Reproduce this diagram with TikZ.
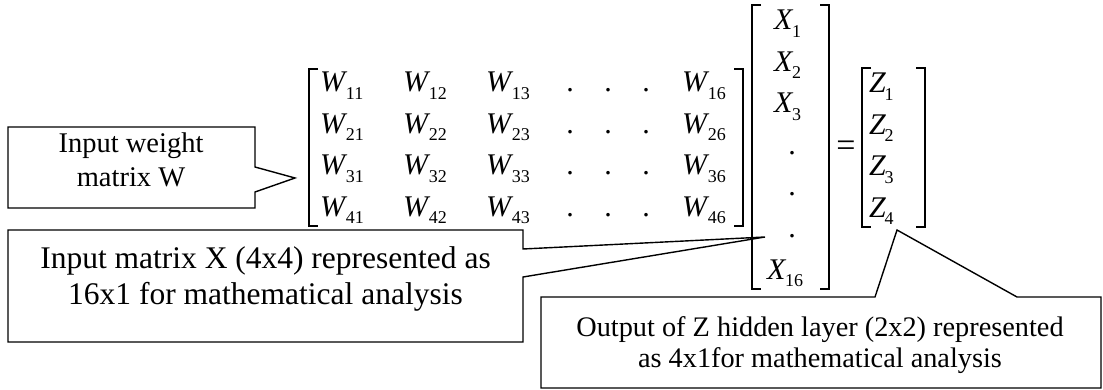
\documentclass[tikz,border=0pt]{standalone}
\usepackage{fontspec}
\setmainfont{Liberation Serif}
% italic letter with a lowered, smaller index
\newcommand\mentry[2]{\textit{#1}\kern-1.5pt\raisebox{-7.5pt}{\fontsize{18}{18}\selectfont #2}}

\begin{document}
\begin{tikzpicture}[x=1pt,y=-1pt,
  box/.style={draw=black, line width=1.4pt, fill=white, line join=miter},
  brk/.style={draw=black, line width=1.1pt},
  lbl/.style={align=center, inner sep=0pt},
  ent/.style={anchor=base west, inner sep=0pt, font=\fontsize{30}{30}\selectfont},
  dotent/.style={anchor=base, inner sep=0pt, font=\fontsize{30}{30}\selectfont},
]
\useasboundingbox (0,0) rectangle (1103,390);

% ---- callout shapes ----
\coordinate (tipW) at (295,178);
\coordinate (tipX) at (765,237);
\coordinate (tipZ) at (897,230);
\draw[box] (8,127) -- (255,127) -- (255,167) -- (tipW) -- (255,192)
  -- (255,208) -- (8,208) -- cycle;
\draw[box] (8,230) -- (523,230) -- (523,249) -- (tipX) -- (523,277)
  -- (523,342) -- (8,342) -- cycle;
\draw[box] (541,297) -- (875,297) -- (tipZ) -- (1017,297) -- (1101,297)
  -- (1101,388) -- (541,388) -- cycle;

% ---- callout texts ----
\node[lbl, font=\fontsize{28.5}{34}\selectfont] (tw) at (131,160)
  {Input weight\\matrix W};
\node[lbl, font=\fontsize{31.5}{36}\selectfont] (tx) at (265.5,279)
  {Input matrix X (4x4) represented as\\16x1 for mathematical analysis};
\node[lbl, font=\fontsize{28.3}{31}\selectfont] (tz) at (820,345)
  {Output of Z hidden layer (2x2) represented\\as 4x1for mathematical analysis};

% ---- weight matrix W ----
\draw[brk] (318,69) -- (309,69) -- (309,226) -- (318,226);
\draw[brk] (734,69) -- (743,69) -- (743,226) -- (734,226);
\foreach \r/\yb in {1/92, 2/133.5, 3/175, 4/216.5} {
  \node[ent] (w\r1) at (320,\yb) {\mentry{W}{\r1}};
  \node[ent] (w\r2) at (403,\yb) {\mentry{W}{\r2}};
  \node[ent] (w\r3) at (486,\yb) {\mentry{W}{\r3}};
  \node[dotent] (wd\r a) at (570,\yb) {.};
  \node[dotent] (wd\r b) at (608,\yb) {.};
  \node[dotent] (wd\r c) at (646,\yb) {.};
  \node[ent] (w\r6) at (682,\yb) {\mentry{W}{\r6}};
}

% ---- input vector X ----
\draw[brk] (761,5) -- (752,5) -- (752,289) -- (761,289);
\draw[brk] (820,5) -- (829,5) -- (829,289) -- (820,289);
\node[ent] (x1) at (774,30) {\mentry{X}{1}};
\node[ent] (x2) at (774,71.5) {\mentry{X}{2}};
\node[ent] (x3) at (774,113) {\mentry{X}{3}};
\node[dotent] (xd1) at (792,154.5) {.};
\node[dotent] (xd2) at (792,196) {.};
\node[dotent] (xd3) at (792,237.5) {.};
\node[ent] (x16) at (767,279) {\mentry{X}{16}};

% ---- equals sign ----
\node[dotent, font=\fontsize{34}{34}\selectfont] (eq) at (846,157) {=};

% ---- output vector Z ----
\draw[brk] (871,68) -- (862,68) -- (862,227) -- (871,227);
\draw[brk] (916,68) -- (925,68) -- (925,227) -- (916,227);
\foreach \r/\yb in {1/93, 2/134.5, 3/176, 4/217.5} {
  \node[ent] (z\r) at (869,\yb) {\mentry{Z}{\r}};
}
\end{tikzpicture}
\end{document}
